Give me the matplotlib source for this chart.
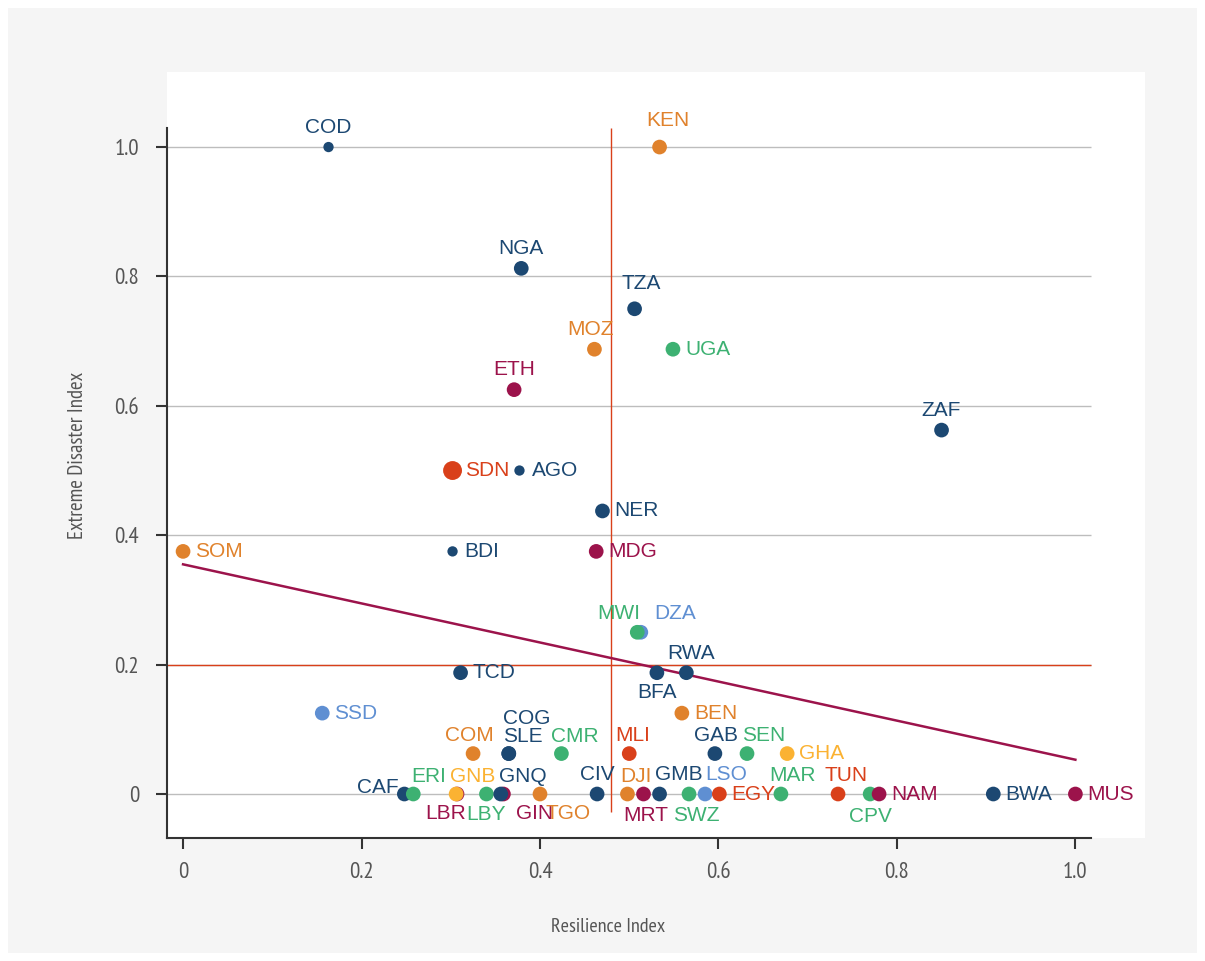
import matplotlib.pyplot as plt
from matplotlib import font_manager as fm
from matplotlib.patches import Rectangle

# data
codes = ['CAF', 'COD', 'KEN', 'NGA', 'TZA', 'MOZ', 'UGA', 'ETH', 'ZAF', 'SDN', 'AGO', 'NER',
         'SOM', 'BDI', 'MDG', 'DZA', 'MWI', 'RWA', 'BFA', 'TCD', 'SSD', 'BEN',
         'COM', 'COG', 'SLE', 'CMR', 'MLI', 'GAB', 'SEN', 'GHA',
         'ERI', 'LBR', 'GNB', 'LBY', 'GIN', 'GNQ', 'TGO', 'CIV', 'DJI', 'MRT', 'GMB',
         'SWZ', 'LSO', 'EGY', 'MAR', 'TUN', 'CPV', 'NAM', 'BWA', 'MUS']
resilience = [0.248, 0.163, 0.534, 0.379, 0.506, 0.461, 0.549, 0.371, 0.850, 0.302, 0.377, 0.470,
              0.0, 0.302, 0.463, 0.513, 0.509, 0.564, 0.531, 0.311, 0.156, 0.559,
              0.325, 0.365, 0.365, 0.424, 0.500, 0.596, 0.632, 0.677,
              0.258, 0.307, 0.306, 0.340, 0.359, 0.356, 0.400, 0.464, 0.498, 0.516, 0.534,
              0.567, 0.585, 0.601, 0.670, 0.734, 0.770, 0.780, 0.908, 1.0]
disaster = [0.0, 1.0, 1.0, 0.8125, 0.75, 0.6875, 0.6875, 0.625, 0.5625, 0.5, 0.5, 0.4375,
            0.375, 0.375, 0.375, 0.25, 0.25, 0.1875, 0.1875, 0.1875, 0.125, 0.125,
            0.0625, 0.0625, 0.0625, 0.0625, 0.0625, 0.0625, 0.0625, 0.0625,
            0, 0, 0, 0, 0, 0, 0, 0, 0, 0, 0,
            0, 0, 0, 0, 0, 0, 0, 0, 0]
groups = ['b', 'b', 'o', 'b', 'b', 'o', 'g', 'c', 'b', 'r', 'b', 'b',
          'o', 'b', 'c', 'l', 'g', 'b', 'b', 'b', 'l', 'o',
          'o', 'b', 'b', 'g', 'r', 'b', 'g', 'y',
          'g', 'c', 'y', 'g', 'c', 'b', 'o', 'b', 'o', 'c', 'b',
          'g', 'l', 'r', 'g', 'r', 'g', 'c', 'b', 'c']
trend_x = [0.0, 1.0]
trend_y = [0.355, 0.053]
median_resilience = 0.48
disaster_threshold = 0.2
tick_vals = [0, 0.2, 0.4, 0.6, 0.8, 1.0]
tick_text = ['0', '0.2', '0.4', '0.6', '0.8', '1.0']

palette = {'b': '#1c4872', 'o': '#e0822c', 'g': '#3db172', 'c': '#9c134b',
           'r': '#d9401a', 'l': '#5f8fd2', 'y': '#fbb232'}
small = {'COD', 'AGO', 'BDI'}
big = {'SDN'}

# label placement: (dx, dy) pixels, horizontal alignment
U, R, D = (0, 20, 'center'), (12, 0, 'left'), (0, -20, 'center')
place = {c: U for c in codes}
for c in ['UGA', 'SDN', 'AGO', 'NER', 'SOM', 'BDI', 'MDG', 'TCD', 'SSD', 'BEN', 'GHA',
          'EGY', 'NAM', 'BWA', 'MUS']:
    place[c] = R
for c in ['BFA', 'LBR', 'LBY', 'GIN', 'TGO', 'MRT', 'SWZ', 'CPV']:
    place[c] = D
place.update({'KEN': (8, 27, 'center'), 'TZA': (7, 25, 'center'), 'MOZ': (-4, 20, 'center'),
              'COG': (18, 35, 'center'), 'SLE': (14, 17, 'center'), 'COM': (-4, 18, 'center'),
              'CMR': (13, 17, 'center'), 'MWI': (-19, 19, 'center'), 'DZA': (34, 19, 'center'),
              'RWA': (5, 19, 'center'), 'CAF': (-27, 7, 'center'), 'ERI': (15, 18, 'center'),
              'GNB': (17, 18, 'center'), 'GNQ': (22, 18, 'center'), 'DJI': (8, 18, 'center'),
              'GMB': (19, 20, 'center'), 'LSO': (21, 20, 'center'), 'MAR': (12, 19, 'center'),
              'TUN': (8, 19, 'center'), 'LBR': (-11, -19, 'center'), 'GIN': (31, -19, 'center'),
              'TGO': (28, -19, 'center'), 'MRT': (2, -21, 'center'), 'SWZ': (7, -21, 'center'),
              'CPV': (0, -22, 'center'), 'MLI': (3, 18, 'center'), 'GAB': (1, 18, 'center'),
              'SEN': (17, 18, 'center'), 'COD': (0, 20, 'center')})


def pick(cands):
    have = set(f.name for f in fm.fontManager.ttflist)
    return [c for c in cands if c in have][:1] + ['DejaVu Sans']


narrow = pick(['Liberation Sans Narrow', 'PT Sans Narrow', 'Roboto Condensed',
               'Fira Sans Condensed', 'Open Sans Condensed', 'Archivo Narrow'])
arial = pick(['Liberation Sans', 'Arimo', 'Arial'])

fig = plt.figure(figsize=(12.05, 9.61), dpi=100)
fig.patches.append(Rectangle((8 / 1205, 8 / 961), 1189 / 1205, 945 / 961,
                             transform=fig.transFigure, facecolor='#f5f5f5',
                             edgecolor='none', zorder=-10))
ax = fig.add_axes([167 / 1205, 1 - 838 / 961, 978 / 1205, 766 / 961])
ax.set_xlim(-0.018, 1.078)
ax.set_ylim(-0.068, 1.116)

ax.hlines(tick_vals, -0.018, 1.017, color='#bdbdbd', lw=1, zorder=1)
ax.vlines(median_resilience, -0.028, 1.03, color='#d9401a', lw=1, zorder=2)
ax.hlines(disaster_threshold, -0.018, 1.017, color='#d9401a', lw=1, zorder=2)
ax.plot(trend_x, trend_y, color='#9c134b', lw=1.8, zorder=2)

for c, x, y, g in zip(codes, resilience, disaster, groups):
    s = 55 if c in small else (185 if c in big else 112)
    ax.scatter(x, y, s=s, color=palette[g], edgecolors='none', zorder=3)
    dx, dy, ha = place[c]
    ax.annotate(c, (x, y), xytext=(dx, dy), textcoords='offset pixels', ha=ha,
                va='center', fontsize=15, color=palette[g], family=arial, zorder=4)

ax.set_xticks(tick_vals)
ax.set_xticklabels(tick_text)
ax.set_yticks(tick_vals)
ax.set_yticklabels(tick_text)
for lab in ax.get_xticklabels() + ax.get_yticklabels():
    lab.set_family(narrow)
    lab.set_fontsize(16.5)
    lab.set_color('#555555')
ax.tick_params(length=8, width=1.5, color='#333333')
ax.tick_params(axis='y', pad=12)
ax.tick_params(axis='x', pad=9)

for sp in ['top', 'right']:
    ax.spines[sp].set_visible(False)
ax.spines['left'].set_bounds(-0.068, 1.03)
ax.spines['bottom'].set_bounds(-0.018, 1.017)
for sp in ['left', 'bottom']:
    ax.spines[sp].set_linewidth(1.5)
    ax.spines[sp].set_color('#333333')

ax.set_xlabel('Resilience Index', family=narrow, fontsize=14.5, color='#555555')
ax.set_ylabel('Extreme Disaster Index', family=narrow, fontsize=15, color='#555555')
ax.xaxis.set_label_coords((608 - 167) / 978, (838 - 918) / 766)
ax.yaxis.set_label_coords((87 - 167) / 978, (838 - 455) / 766)

fig.savefig('out.png', dpi=100, facecolor='white')
